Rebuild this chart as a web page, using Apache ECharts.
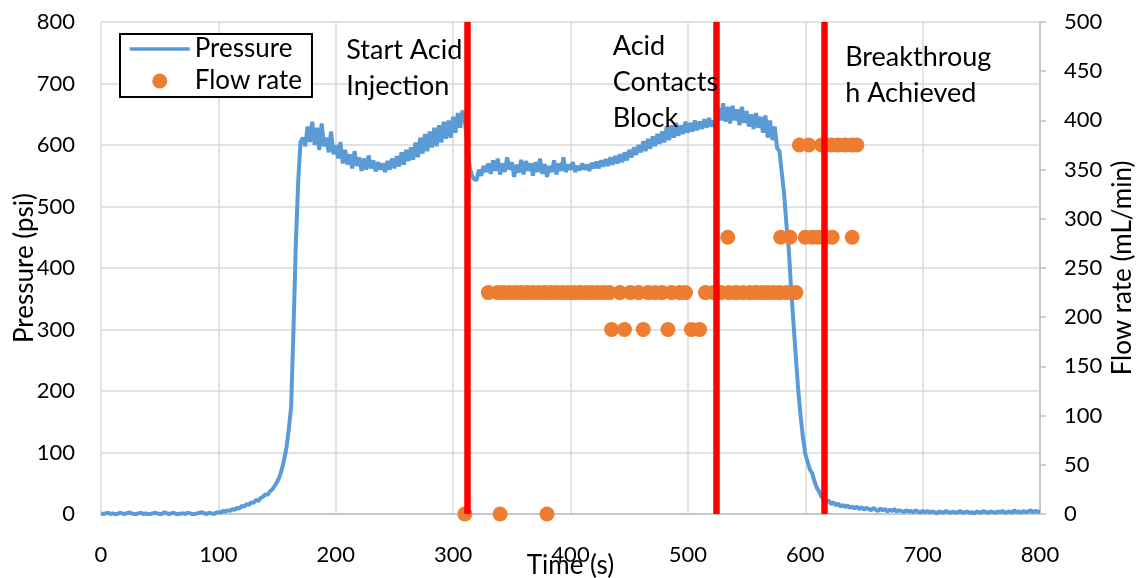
<!DOCTYPE html>
<html>
<head>
<meta charset="utf-8">
<script src="https://cdn.jsdelivr.net/npm/echarts@6/dist/echarts.min.js"></script>
<style>
  html, body { margin: 0; padding: 0; background: #fff; }
  #chart { width: 1144px; height: 578px; }
</style>
</head>
<body>
<div id="chart"></div>
<script>
// Pressure log, one reading every 2 s starting at t = 0 s (psi)
const timeStep = 2;
const pressurePsi = [
  1, 0, 1, 2, 0, 1, 0, 0, 2, 1,             // 0-18
  0, 1, 3, 1, 0, 0, 1, 2, 0, 1,             // 20-38
  0, 0, 1, 2, 1, 0, 0, 3, 1, 0,             // 40-58
  1, 2, 0, 0, 1, 1, 0, 2, 1, 0,             // 60-78
  0, 1, 2, 3, 1, 0, 2, 1, 0, 2,             // 80-98
  3, 2, 5, 4, 6, 5, 8, 7, 10, 9,            // 100-118
  13, 12, 16, 15, 19, 18, 23, 21, 26, 28,   // 120-138
  32, 31, 37, 40, 46, 52, 60, 72, 88, 108,  // 140-158
  138, 175, 300, 440, 540, 605, 612, 598, 630, 605, // 160-178
  638, 600, 628, 592, 635, 598, 612, 588, 622, 585, // 180-198
  600, 578, 605, 570, 592, 568, 585, 562, 590, 566, // 200-218
  580, 558, 578, 560, 583, 562, 575, 557, 572, 560, // 220-238
  570, 556, 574, 560, 578, 562, 582, 565, 588, 568, // 240-258
  592, 574, 596, 576, 604, 580, 612, 586, 618, 590, // 260-278
  622, 596, 628, 598, 632, 604, 638, 610, 640, 612, // 280-298
  646, 620, 652, 628, 656, 640, 600, 565, 550, 544, // 300-318
  543, 560, 550, 566, 556, 570, 553, 575, 558, 578, // 320-338
  552, 570, 556, 580, 560, 572, 548, 568, 555, 576, // 340-358
  552, 574, 558, 570, 550, 572, 556, 578, 553, 569, // 360-378
  548, 566, 556, 575, 552, 570, 558, 580, 556, 568, // 380-398
  560, 572, 556, 566, 559, 570, 560, 568, 558, 571, // 400-418
  562, 573, 562, 575, 565, 577, 566, 580, 568, 582, // 420-438
  570, 585, 572, 588, 575, 592, 580, 596, 584, 600, // 440-458
  588, 606, 590, 610, 594, 614, 598, 618, 602, 622, // 460-478
  604, 630, 608, 632, 612, 636, 615, 632, 618, 638, // 480-498
  620, 636, 622, 640, 624, 638, 626, 642, 628, 644, // 500-518
  630, 640, 622, 660, 640, 668, 638, 662, 635, 664, // 520-538
  640, 658, 632, 662, 636, 655, 630, 650, 626, 652, // 540-558
  628, 646, 620, 648, 612, 640, 608, 630, 595, 590, // 560-578
  555, 520, 470, 430, 364, 310, 255, 202, 160, 125, // 580-598
  98, 85, 72, 66, 52, 42, 36, 28, 24, 20,   // 600-618
  22, 16, 19, 14, 17, 12, 15, 11, 14, 10,   // 620-638
  12, 9, 12, 8, 11, 7, 10, 8, 6, 10,        // 640-658
  7, 5, 9, 6, 8, 4, 7, 5, 8, 4,             // 660-678
  6, 5, 3, 6, 4, 5, 3, 6, 4, 2,             // 680-698
  5, 3, 5, 2, 4, 3, 1, 4, 3, 2,             // 700-718
  5, 3, 2, 4, 2, 3, 5, 2, 3, 4,             // 720-738
  2, 3, 1, 4, 3, 2, 5, 3, 2, 4,             // 740-758
  3, 2, 4, 3, 5, 2, 3, 4, 2, 6,             // 760-778
  3, 4, 2, 5, 3, 4, 6, 3, 5, 4,             // 780-798
  3                                         // 800
];

// Pump flow-rate readings: [time (s), rate (mL/min)]
const flowRate = [
  [310, 0], [340, 0], [380, 0],
  [330, 225], [338, 225], [343, 225], [348, 225], [353, 225], [358, 225],
  [363, 225], [368, 225], [373, 225], [378, 225], [383, 225], [388, 225],
  [393, 225], [398, 225], [403, 225], [408, 225], [413, 225], [418, 225],
  [423, 225], [428, 225], [433, 225], [442, 225], [451, 225], [458, 225],
  [466, 225], [472, 225], [478, 225], [486, 225], [493, 225], [498, 225],
  [515, 225], [522, 225], [528, 225], [535, 225], [541, 225], [547, 225],
  [553, 225], [558, 225], [563, 225], [568, 225], [573, 225], [578, 225],
  [584, 225], [592, 225],
  [435, 187.5], [446, 187.5], [462, 187.5], [483, 187.5], [503, 187.5], [510, 187.5],
  [534, 281.25], [579, 281.25], [587, 281.25], [600, 281.25], [606, 281.25],
  [611, 281.25], [617, 281.25], [623, 281.25], [640, 281.25],
  [595, 375], [603, 375], [614, 375], [622, 375], [628, 375], [634, 375],
  [640, 375], [644, 375]
];

// Key events during the test (s)
const eventTimes = [312, 524, 616];
const noteTexts = ['Start Acid\nInjection', 'Acid\nContacts\nBlock', 'Breakthroug\nh Achieved'];
// top-left corner of each note, in [time (s), pressure (psi)]
const noteAnchors = [[209, 784], [436, 790], [634, 772]];

const FONT = 'Lato';
const TEXT = '#000';
const GRID_LINE = '#D9D9D9';
const AXIS_LINE = '#BFBFBF';

const chart = echarts.init(document.getElementById('chart'), null, { renderer: 'canvas' });

const option = {
  animation: false,
  backgroundColor: '#fff',
  textStyle: { fontFamily: FONT, color: TEXT },
  grid: { left: 101, right: 104, top: 22, bottom: 64, containLabel: false, outerBoundsMode: 'none' },
  legend: {
    left: 120,
    top: 34,
    orient: 'vertical',
    backgroundColor: '#fff',
    borderColor: '#000',
    borderWidth: 2,
    borderRadius: 0,
    padding: [2, 10, 3, 8],
    itemGap: 6,
    itemWidth: 60,
    itemHeight: 15,
    textStyle: { fontSize: 26, fontFamily: FONT, color: TEXT, lineHeight: 26 },
    data: [
      { name: 'Pressure', itemStyle: { opacity: 0 }, lineStyle: { width: 3.5, color: '#5B9BD5' } },
      { name: 'Flow rate' }
    ]
  },
  xAxis: {
    type: 'value',
    min: 0,
    max: 800,
    interval: 100,
    name: 'Time (s)',
    nameLocation: 'middle',
    nameGap: 39,
    nameMoveOverlap: false,
    nameTextStyle: { fontSize: 26, fontFamily: FONT, color: TEXT },
    axisLine: { show: true, lineStyle: { color: AXIS_LINE, width: 1.5 } },
    axisTick: { show: false },
    axisLabel: { fontSize: 22, fontFamily: FONT, color: TEXT, margin: 30 },
    splitLine: { show: true, lineStyle: { color: GRID_LINE, width: 1.5 } }
  },
  yAxis: [
    {
      type: 'value',
      min: 0,
      max: 800,
      interval: 100,
      name: 'Pressure (psi)',
      nameLocation: 'middle',
      nameRotate: 90,
      nameGap: 63,
      nameMoveOverlap: false,
      nameTextStyle: { fontSize: 26, fontFamily: FONT, color: TEXT },
      axisLine: { show: false },
      axisTick: { show: false },
      axisLabel: { fontSize: 22, fontFamily: FONT, color: TEXT, margin: 26 },
      splitLine: { show: true, lineStyle: { color: GRID_LINE, width: 1.5 } }
    },
    {
      type: 'value',
      position: 'right',
      min: 0,
      max: 500,
      interval: 50,
      name: 'Flow rate (mL/min)',
      nameLocation: 'middle',
      nameRotate: 90,
      nameGap: 70,
      nameMoveOverlap: false,
      nameTextStyle: { fontSize: 26, fontFamily: FONT, color: TEXT },
      axisLine: { show: true, lineStyle: { color: AXIS_LINE, width: 1.5 } },
      axisTick: { show: true, inside: false, length: 6, lineStyle: { color: AXIS_LINE, width: 1.5 } },
      axisLabel: { fontSize: 22, fontFamily: FONT, color: TEXT, margin: 24 },
      splitLine: { show: false }
    }
  ],
  series: [
    {
      name: 'Pressure',
      type: 'line',
      xAxisIndex: 0,
      yAxisIndex: 0,
      data: pressurePsi.map((p, i) => [i * timeStep, p]),
      symbol: 'none',
      showSymbol: false,
      smooth: false,
      lineStyle: { color: '#5B9BD5', width: 4 },
      itemStyle: { color: '#5B9BD5' },
      z: 2
    },
    {
      name: 'Flow rate',
      type: 'scatter',
      xAxisIndex: 0,
      yAxisIndex: 1,
      data: flowRate,
      symbol: 'circle',
      symbolSize: 15,
      itemStyle: { color: '#ED7D31', opacity: 1 },
      z: 3,
      markLine: {
        silent: true,
        symbol: ['none', 'none'],
        label: { show: false },
        lineStyle: { color: '#FF0000', width: 6.5, type: 'solid' },
        data: eventTimes.map(t => ({ xAxis: t })),
        z: 5
      }
    }
  ]
};

chart.setOption(option);

// Event notes, placed in data coordinates on the pressure axes
chart.setOption({
  graphic: noteTexts.map((text, i) => {
    const [x, y] = chart.convertToPixel({ xAxisIndex: 0, yAxisIndex: 0 }, noteAnchors[i]);
    return {
      type: 'text',
      x: x,
      y: y,
      z: 10,
      style: {
        text: text,
        fontSize: 27,
        fontFamily: FONT,
        fill: TEXT,
        lineHeight: 36,
        align: 'left',
        verticalAlign: 'top'
      }
    };
  })
});
</script>
</body>
</html>
